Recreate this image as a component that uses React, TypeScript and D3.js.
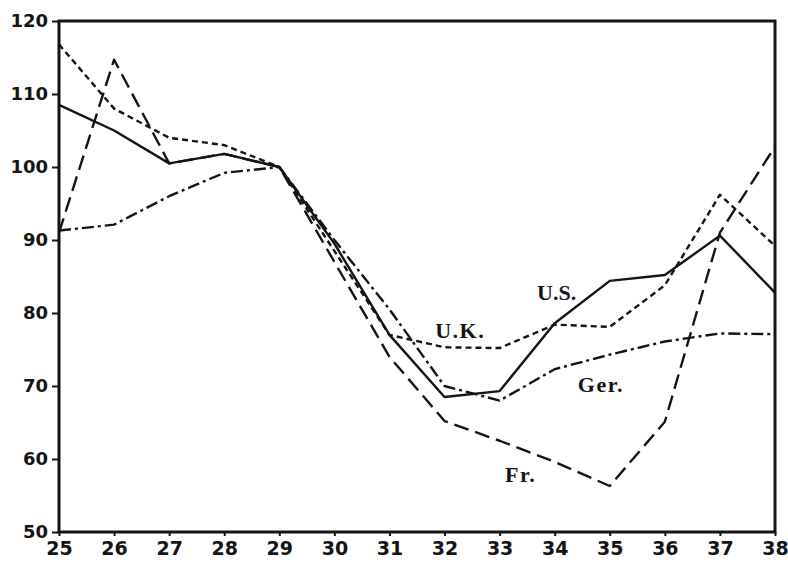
import * as d3 from 'd3'
import React, { useEffect, useRef } from 'react'

const years = [25, 26, 27, 28, 29, 30, 31, 32, 33, 34, 35, 36, 37, 38]
const usValues = [108.5, 105, 100.5, 101.8, 100, 89.5, 77, 68.5, 69.3, 78.6, 84.4, 85.2, 90.6, 82.8]
const ukValues = [116.8, 108, 104, 103, 100, 88.5, 77, 75.3, 75.2, 78.4, 78.1, 83.8, 96.2, 89.2]
const gerValues = [91.3, 92.1, 96, 99.2, 100, 90, 80.5, 70, 68, 72.3, 74.3, 76.1, 77.2, 77.1]
const frValues = [91, 114.7, 100.5, 101.8, 100, 87, 74, 65.2, 62.5, 59.6, 56.3, 65.1, 91, 102.8]
const yTicks = [50, 60, 70, 80, 90, 100, 110, 120]

const width = 788
const height = 567
const margin = { top: 21, right: 13, bottom: 35, left: 59 }

const ink = '#141414'

const series = [
  { name: 'U.S.', values: usValues, dash: null },
  { name: 'U.K.', values: ukValues, dash: '6,4' },
  { name: 'Ger.', values: gerValues, dash: '12,4,3,4' },
  { name: 'Fr.', values: frValues, dash: '15,7' },
]

// label anchors in data units (year, value)
const labels = [
  { text: 'U.S.', year: 33.68, value: 81.8, spacing: 0 },
  { text: 'U.K.', year: 31.83, value: 76.6, spacing: 1.5 },
  { text: 'Ger.', year: 34.42, value: 69.2, spacing: 1.5 },
  { text: 'Fr.', year: 33.1, value: 56.9, spacing: 1.5 },
]

const App: React.FC = () => {
  const ref = useRef<SVGSVGElement>(null)

  useEffect(() => {
    const svg = d3.select(ref.current)
    svg.selectAll('*').remove()

    const innerW = width - margin.left - margin.right
    const innerH = height - margin.top - margin.bottom

    const x = d3.scaleLinear().domain([25, 38]).range([0, innerW])
    const y = d3.scaleLinear().domain([50, 120]).range([innerH, 0])

    const g = svg.append('g').attr('transform', `translate(${margin.left},${margin.top})`)

    // lines
    const line = d3
      .line<number>()
      .x((d, i) => x(years[i]))
      .y((d) => y(d))

    series.forEach((s) => {
      g.append('path')
        .datum(s.values)
        .attr('d', line)
        .attr('fill', 'none')
        .attr('stroke', ink)
        .attr('stroke-width', 2.4)
        .attr('stroke-linejoin', 'round')
        .attr('stroke-dasharray', s.dash)
    })

    // frame
    g.append('rect')
      .attr('x', 0)
      .attr('y', 0)
      .attr('width', innerW)
      .attr('height', innerH)
      .attr('fill', 'none')
      .attr('stroke', ink)
      .attr('stroke-width', 3)

    // y axis
    const yAxis = g
      .append('g')
      .call(d3.axisLeft(y).tickValues(yTicks).tickSize(7).tickPadding(4).tickFormat(d3.format('d')))
    yAxis.select('.domain').remove()
    yAxis.selectAll('line').attr('stroke', ink).attr('stroke-width', 2)
    yAxis
      .selectAll('text')
      .attr('fill', ink)
      .style('font-family', 'DejaVu Sans')
      .style('font-weight', 'bold')
      .style('font-size', '18px')

    // x axis
    const xAxis = g
      .append('g')
      .attr('transform', `translate(0,${innerH})`)
      .call(d3.axisBottom(x).tickValues(years).tickSize(4).tickPadding(6).tickFormat(d3.format('d')))
    xAxis.select('.domain').remove()
    xAxis.selectAll('line').attr('stroke', ink).attr('stroke-width', 2)
    xAxis
      .selectAll('text')
      .attr('fill', ink)
      .style('font-family', 'DejaVu Sans')
      .style('font-weight', 'bold')
      .style('font-size', '19px')

    // series labels
    labels.forEach((l) => {
      g.append('text')
        .attr('x', x(l.year))
        .attr('y', y(l.value))
        .attr('fill', ink)
        .style('font-family', 'Liberation Serif')
        .style('font-weight', 'bold')
        .style('font-size', '22px')
        .style('letter-spacing', `${l.spacing}px`)
        .text(l.text)
    })
  }, [])

  return (
    <div style={{ position: 'absolute', left: 0, top: 0, background: '#fff' }}>
      <svg ref={ref} width={width} height={height} style={{ display: 'block' }} />
    </div>
  )
}

export default App
